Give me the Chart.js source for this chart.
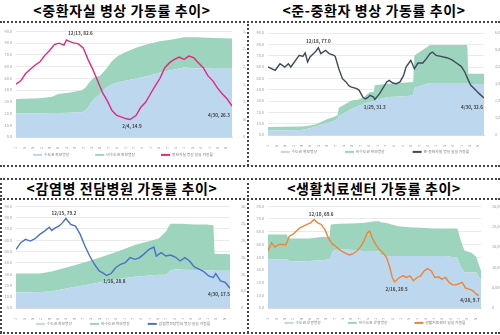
<!DOCTYPE html>
<html>
<head>
<meta charset="utf-8">
<script src="https://cdn.jsdelivr.net/npm/chart.js@4.4.1/dist/chart.umd.min.js"></script>
<style>
  body { margin:0; background:#fff; width:500px; height:335px; position:relative; overflow:hidden; font-family:"Noto Sans CJK KR", sans-serif; }
  .title { position:absolute; font-weight:bold; font-size:14px; line-height:15px; letter-spacing:0.6px; color:#000; text-align:center; white-space:nowrap; }
  .dh { position:absolute; height:0; border-top:2px dotted #444; }
  .dv { position:absolute; width:0; border-left:2px dotted #444; }
  canvas { position:absolute; }
</style>
</head>
<body>
<div class="title" style="left:0;width:244px;top:3px">&lt;중환자실 병상 가동률 추이&gt;</div>
<div class="title" style="left:250px;width:248px;top:3px">&lt;준-중환자 병상 가동률 추이&gt;</div>
<div class="title" style="left:0;width:244px;top:181px">&lt;감염병 전담병원 가동률 추이&gt;</div>
<div class="title" style="left:250px;width:248px;top:181px">&lt;생활치료센터 가동률 추이&gt;</div>

<div class="dh" style="left:0;width:500px;top:21px"></div>
<div class="dh" style="left:0;width:500px;top:165px"></div>
<div class="dv" style="left:247px;top:21px;height:145px"></div>
<div class="dh" style="left:0;width:500px;top:178px"></div>
<div class="dh" style="left:0;width:500px;top:198px"></div>
<div class="dh" style="left:0;width:500px;top:332px"></div>
<div class="dv" style="left:0;top:178px;height:155px"></div>
<div class="dv" style="left:247px;top:178px;height:155px"></div>

<canvas id="c1" width="246" height="138" style="left:0;top:25px"></canvas>
<canvas id="c2" width="250" height="136" style="left:250px;top:25px"></canvas>
<canvas id="c3" width="246" height="134" style="left:0;top:200px"></canvas>
<canvas id="c4" width="250" height="134" style="left:250px;top:200px"></canvas>

<script>
// x axis: days since 11/1, weekly tick labels
const tickLabels = ['11/1','11/8','11/15','11/22','11/29','12/6','12/13','12/20','12/27','1/3','1/10','1/17','1/24','1/31','2/7','2/14','2/21','2/28','3/7','3/14','3/21','3/28','4/4','4/11','4/18','4/25'];

// 중환자실
const p1Days = [0,4,8,12,16,20,24,28,32,36,40,42,44,48,52,56,60,64,68,72,76,80,84,88,92,95,100,104,108,112,116,120,124,128,132,136,140,144,148,152,156,160,164,168,172,176,180];
const p1Rate = [45.0,47.8,54.0,57.6,61.3,64.1,69.5,73.7,78.7,79.9,78.2,82.6,81.6,80.1,79.3,75.9,66.1,57.6,47.8,38.0,30.9,22.5,18.3,16.9,15.5,14.9,18.3,25.3,29.5,36.6,43.6,50.0,59.0,63.3,66.1,68.0,66.0,68.9,67.5,63.3,59.0,52.0,47.8,41.6,36.6,32.3,26.3];
const p1BedDays = [0,20,30,35,45,55,58,60,62,65,70,75,80,85,90,100,110,120,130,140,150,165,180];
const p1Metro = [675,675,680,680,690,700,760,840,950,1080,1220,1390,1500,1550,1590,1660,1730,1830,1900,1970,1950,1940,1940];
const p1NonMetro = [405,425,460,540,575,630,645,660,640,610,515,530,655,750,800,870,910,890,865,860,880,870,855];
const p1Legend = ['수도권 확보병상','비수도권 확보병상','중환자실 병상 일일 가동률'];
const p1NoteDays = [42, 95, 180];
const p1NoteText = ['12/13, 82.6','2/4, 14.9','4/30, 26.3'];

// 준-중환자
const p2Days = [0,6,10,14,17,19,21,24,26,29,31,33,35,38,40,42,44,48,51,55,56,59,62,65,67,69,74,76,79,81,83,85,88,89,93,96,99,101,104,107,110,113,115,117,119,122,125,129,132,135,137,140,144,149,153,157,161,164,167,169,172,176,180];
const p2Rate = [60.0,57.1,62.9,60.0,62.9,60.0,62.9,67.4,70.3,69.4,72.4,64.4,68.8,71.8,74.1,77.0,71.8,74.7,71.8,70.3,69.4,58.5,49.7,46.8,43.8,42.4,40.9,39.4,33.5,31.8,32.9,35.0,33.5,31.3,36.5,41.8,46.8,48.2,45.9,45.3,46.8,52.6,60.0,62.9,65.9,58.5,63.5,63.5,67.4,71.8,73.2,70.3,69.4,68.2,66.5,63.5,60.6,55.6,48.2,43.8,40.9,36.5,32.6];
const p2BedDays = [0,28,35,40,45,50,55,58,59,65,70,75,80,85,88,89,100,110,121,122,135,166,167,180];
const p2Metro = [270,300,400,510,630,705,820,960,1100,1350,1550,1685,1840,1940,2000,2040,2235,2270,2330,2780,3060,3060,3000,3000];
const p2NonMetro = [200,200,160,120,170,255,240,195,500,490,490,395,395,590,530,880,785,790,785,1900,2240,2240,600,600];
const p2Legend = ['수도권 확보병상','비수도권 확보병상','준-중환자실 병상 일일 가동률'];
const p2NoteDays = [42, 89, 180];
const p2NoteText = ['12/18, 77.0','1/29, 31.3','4/30, 32.6'];

// 감염병 전담병원
const p3Days = [0,4,8,12,16,20,24,28,30,33,36,39,42,46,50,54,58,62,66,70,74,76,80,84,88,92,96,100,104,108,112,116,118,122,126,130,134,138,142,146,150,154,158,162,166,168,172,176,180];
const p3Rate = [51.9,57.8,60.7,59.2,61.3,65.1,68.0,71.5,68.6,70.9,72.4,75.3,79.2,73.9,72.4,65.1,54.8,46.0,38.7,32.8,30.5,28.8,30.5,35.8,38.7,40.2,44.6,43.1,44.6,48.1,51.9,53.9,46.0,49.0,46.0,46.9,45.1,41.6,44.6,41.6,36.4,34.3,32.2,28.4,27.0,30.5,24.0,22.6,17.5];
const p3BedDays = [0,20,30,40,50,60,70,80,90,100,110,120,125,127,128,130,134,140,150,160,166,167,180];
const p3Metro = [4590,4700,4885,5570,6250,6840,7520,8200,8790,9180,9480,9770,9900,9970,10500,11000,11430,11300,11200,11140,11140,11000,11000];
const p3NonMetro = [5570,5460,5865,6150,6450,6840,7330,7820,8500,9380,10060,10750,12280,13030,13340,13820,13390,13520,13420,13480,13290,5020,4830];
const p3Legend = ['수도권 확보병상','비수도권 확보병상','감염병전담병원 병상 일일 가동률'];
const p3NoteDays = [42, 76, 180];
const p3NoteText = ['12/15, 79.2','1/16, 28.8','4/30, 17.5'];

// 생활치료센터
const p4Days = [0,3,6,9,12,15,18,21,24,27,30,33,36,39,42,45,48,51,54,57,60,63,66,69,72,75,78,81,84,86,88,91,94,97,100,103,105,107,111,114,117,120,123,126,129,132,135,138,141,144,147,150,153,156,159,162,164,167,170,173,176,178];
const p4Rate = [44.8,51.3,47.9,50.0,50.0,49.5,56.5,57.8,60.5,63.0,64.4,65.7,67.0,69.6,67.0,65.7,61.8,55.2,50.6,48.7,46.1,44.3,42.7,41.7,42.7,44.8,47.9,52.6,59.2,60.5,55.2,50.0,46.1,43.5,40.1,31.8,24.0,20.5,24.0,25.3,24.0,25.3,21.4,24.0,25.3,29.2,31.0,29.2,24.0,24.5,22.7,24.0,20.1,18.2,18.2,19.3,20.1,15.6,14.9,13.6,10.9,9.7];
const p4BedDays = [0,16,17,25,35,45,52,53,55,60,70,80,90,94,95,100,110,120,130,140,150,160,163,166,172,176,180];
const p4Metro = [11970,11970,11600,11400,11560,11720,11970,12500,14000,14410,14300,14000,14000,13900,13020,12780,12780,12780,12780,12780,12780,12370,9930,8710,8710,8710,6670];
const p4NonMetro = [6100,6100,5490,5690,5530,5700,5530,8010,6600,6270,6460,6920,7330,7400,8080,8140,7330,7080,6920,6760,6760,7170,6510,5450,4880,3830,2450];
const p4Legend = ['수도권 운영병상','비수도권 운영병상','생활치료센터 일일 가동률'];
const p4NoteDays = [39, 107, 178];
const p4NoteText = ['12/10, 69.6','2/16, 20.5','4/28, 9.7'];

const BLUE = '#bdd7ee';
const GREEN = '#9dd4bd';
const TICK = '#9a9a9a';

Chart.defaults.font.family = '"Noto Sans CJK KR", "Noto Sans", sans-serif';
Chart.defaults.animation = false;

// labels next to the highlighted points of the rate line
const pointNotes = {
  id: 'pointNotes',
  afterDatasetsDraw(chart, args, opts) {
    const ctx = chart.ctx;
    const xs = chart.scales.x, ys = chart.scales.y;
    ctx.save();
    ctx.font = 'bold 4.6px "Noto Sans CJK KR", sans-serif';
    ctx.fillStyle = '#404040';
    ctx.textBaseline = 'middle';
    opts.days.forEach((d, i) => {
      const v = opts.rate[opts.lineDays.indexOf(d)];
      const off = opts.offsets[i];
      ctx.textAlign = off[2];
      ctx.fillText(opts.texts[i], xs.getPixelForValue(d) + off[0], ys.getPixelForValue(v) + off[1]);
    });
    ctx.restore();
  }
};

// pull the legend row up close to the tick labels
const legendShift = {
  id: 'legendShift',
  afterLayout(chart, args, opts) {
    const lg = chart.legend;
    lg.top = opts.y - lg.options.labels.padding - 2;
  }
};

function makePanel(id, cfg) {
  const pts = (xs, ys) => xs.map((x, i) => ({x: x, y: ys[i]}));
  new Chart(document.getElementById(id), {
    type: 'line',
    data: {
      datasets: [
        { label: cfg.legend[0], data: pts(cfg.bedDays, cfg.metro), yAxisID: 'y1',
          backgroundColor: BLUE, borderColor: 'rgba(0,0,0,0)', borderWidth: 0, fill: 'origin', pointRadius: 0, order: 1 },
        { label: cfg.legend[1], data: pts(cfg.bedDays, cfg.nonMetro), yAxisID: 'y1',
          backgroundColor: GREEN, borderColor: 'rgba(0,0,0,0)', borderWidth: 0, fill: '-1', pointRadius: 0, order: 2 },
        { label: cfg.legend[2], data: pts(cfg.days, cfg.rate), yAxisID: 'y',
          backgroundColor: cfg.color, borderColor: cfg.color, borderWidth: 1.4, fill: false, pointRadius: 0, tension: 0, order: 0 }
      ]
    },
    options: {
      responsive: false,
      layout: { padding: { top: cfg.padTop, left: 0, right: 0, bottom: 0 } },
      scales: {
        x: {
          type: 'linear', min: 0, max: 180,
          grid: { display: false },
          border: { color: '#d9d9d9' },
          ticks: { stepSize: 7, autoSkip: false, includeBounds: false, minRotation: 90, maxRotation: 90, padding: 2,
                   font: { size: 3.8 }, color: TICK,
                   callback: v => tickLabels[Math.round(v / 7)] || '' },
          afterFit: s => { s.height = 12; }
        },
        y: {
          position: 'left', min: 0, max: cfg.yMax,
          grid: { color: '#ebebeb', drawTicks: false },
          border: { display: false },
          ticks: { stepSize: 10, padding: 4, font: { size: 3.8 }, color: TICK, callback: v => v.toFixed(1) },
          afterFit: s => { s.width = cfg.leftW; }
        },
        y1: {
          position: 'right', min: 0, max: cfg.bedMax, stacked: true,
          grid: { display: false },
          border: { display: false },
          ticks: { stepSize: cfg.bedStep, padding: 3, font: { size: 3.8 }, color: TICK,
                   callback: v => v.toLocaleString('en-US') },
          afterFit: s => { s.width = cfg.rightW; }
        }
      },
      plugins: {
        legend: {
          position: 'bottom', maxHeight: 14,
          labels: {
            boxWidth: 9, boxHeight: 2, padding: cfg.legendPad, color: '#808080', font: { size: 3.8 },
            sort: (a, b) => a.datasetIndex - b.datasetIndex,
            generateLabels: chart => Chart.defaults.plugins.legend.labels.generateLabels(chart).map(it => {
              it.lineWidth = 0;
              return it;
            })
          }
        },
        tooltip: { enabled: false },
        pointNotes: { days: cfg.noteDays, texts: cfg.noteText, offsets: cfg.noteOffsets, rate: cfg.rate, lineDays: cfg.days },
        legendShift: { y: cfg.legendY }
      }
    },
    plugins: [pointNotes, legendShift]
  });
}

makePanel('c1', {
  days: p1Days, rate: p1Rate, bedDays: p1BedDays, metro: p1Metro, nonMetro: p1NonMetro, legend: p1Legend,
  noteDays: p1NoteDays, noteText: p1NoteText, noteOffsets: [[14,-7,'center'],[2,7,'center'],[-2,9,'right']],
  color: '#e0297f', yMax: 90, bedMax: 3000, bedStep: 500,
  padTop: 6, leftW: 16, rightW: 14, legendPad: 26, legendY: 130
});
makePanel('c2', {
  days: p2Days, rate: p2Rate, bedDays: p2BedDays, metro: p2Metro, nonMetro: p2NonMetro, legend: p2Legend,
  noteDays: p2NoteDays, noteText: p2NoteText, noteOffsets: [[0,-6,'center'],[0,8,'center'],[-1,9,'right']],
  color: '#3f4a5c', yMax: 90, bedMax: 6000, bedStep: 1000,
  padTop: 8, leftW: 18, rightW: 16, legendPad: 28, legendY: 127
});
makePanel('c3', {
  days: p3Days, rate: p3Rate, bedDays: p3BedDays, metro: p3Metro, nonMetro: p3NonMetro, legend: p3Legend,
  noteDays: p3NoteDays, noteText: p3NoteText, noteOffsets: [[-2,-5,'center'],[8,6,'center'],[0,6,'right']],
  color: '#4a72c6', yMax: 90, bedMax: 30000, bedStep: 5000,
  padTop: 5, leftW: 16, rightW: 16, legendPad: 18, legendY: 124
});
makePanel('c4', {
  days: p4Days, rate: p4Rate, bedDays: p4BedDays, metro: p4Metro, nonMetro: p4NonMetro, legend: p4Legend,
  noteDays: p4NoteDays, noteText: p4NoteText, noteOffsets: [[7,-5,'center'],[2,7,'center'],[1,5,'right']],
  color: '#ef8535', yMax: 80, bedMax: 25000, bedStep: 5000,
  padTop: 5, leftW: 18, rightW: 19, legendPad: 27, legendY: 123
});
</script>
</body>
</html>
